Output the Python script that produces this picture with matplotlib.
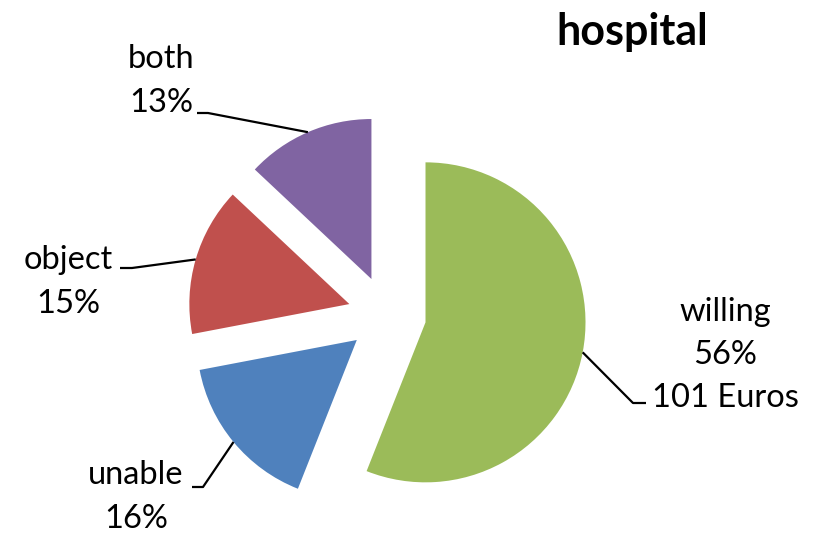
import numpy as np
import matplotlib
matplotlib.use("Agg")
import matplotlib.pyplot as plt

# data
labels = ["willing", "unable", "object", "both"]
shares = [56, 16, 15, 13]
extra = ["101 Euros", "", "", ""]
colors = ["#9BBB59", "#4F81BD", "#C0504D", "#8064A2"]

W, H = 817, 536
plt.rcParams['font.family'] = ['Lato', 'DejaVu Sans']

fig = plt.figure(figsize=(W / 100, H / 100), dpi=100)
ax = fig.add_axes([0, 0, 1, 1])

# pie geometry in pixel units (y up); explode is in data units here
cx, cy, r = 387, H - 315, 160
expl = 0.245 * r

wedges, _ = ax.pie(shares, colors=colors, startangle=90, counterclock=False,
                   explode=[expl] * len(shares), center=(cx, cy), radius=r,
                   wedgeprops=dict(linewidth=0))

ax.set_xlim(0, W)
ax.set_ylim(0, H)
ax.set_aspect('equal')
ax.axis('off')

# label layout in px (y down): elbow of leader, end of leader, text center
layout = {
    "willing": ((633, 403), (646, 403), (725, 355)),
    "unable": ((203, 487), (192, 487), (136, 497)),
    "object": ((132, 268), (120, 268), (68, 282)),
    "both": ((208, 113), (197, 113), (161, 81)),
}

for w, lab, pct, ex in zip(wedges, labels, shares, extra):
    mid = np.deg2rad((w.theta1 + w.theta2) / 2)
    wx, wy = w.center
    ax_pt = (wx + r * np.cos(mid), wy + r * np.sin(mid))
    elbow, end, tc = layout[lab]
    xs = [ax_pt[0], elbow[0], end[0]]
    ys = [ax_pt[1], H - elbow[1], H - end[1]]
    ax.plot(xs, ys, color="black", lw=1.6, solid_capstyle='butt')
    txt = f"{lab}\n{pct}%"
    if ex:
        txt += "\n" + ex
    ax.text(tc[0], H - tc[1], txt, ha='center', va='center', fontsize=23.5,
            linespacing=1.55, multialignment='center')

ax.text(632, H - 32, "hospital", ha='center', va='center', fontsize=31,
        fontweight='bold')

fig.savefig("out.png", dpi=100)
